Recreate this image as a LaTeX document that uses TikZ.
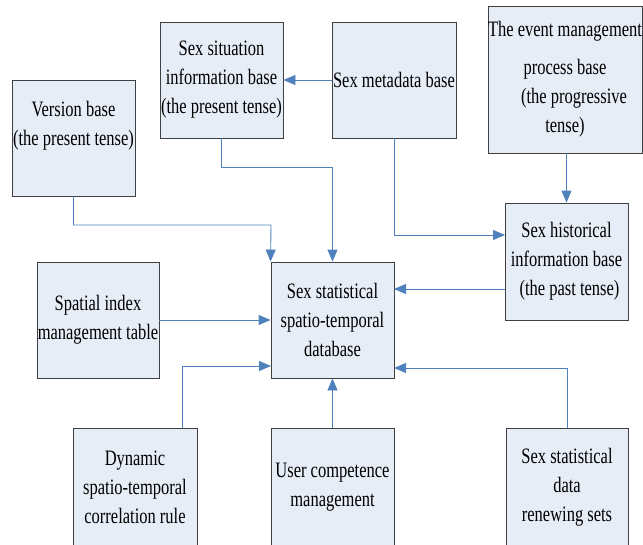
\documentclass[tikz,border=0pt]{standalone}
\usepackage{fontspec}
\setmainfont{Liberation Serif}[FakeStretch=0.75]
\usetikzlibrary{arrows.meta}
\definecolor{boxfill}{HTML}{E7EDF7}
\definecolor{boxline}{HTML}{404040}
\definecolor{conn}{HTML}{4F81BD}
\tikzset{
  box/.style={draw=boxline, fill=boxfill, line width=0.9pt, rectangle, inner sep=0pt,
    align=center, font=\fontsize{22}{29}\selectfont},
  conline/.style={draw=conn, line width=0.9pt},
  arr/.style={conline, -{Triangle[length=12pt,width=10pt]}}
}
\begin{document}
\begin{tikzpicture}[x=1pt,y=-1pt]
\useasboundingbox (0,0) rectangle (643,544);
% boxes
\node[box, minimum width=123pt, minimum height=116pt] (ver) at (73.5,138) {Version base\\(the present tense)\\ ~};
\node[box, minimum width=123pt, minimum height=116pt] (sit) at (221.5,80) {Sex situation\\information base\\(the present tense)};
\node[box, minimum width=124pt, minimum height=116pt] (meta) at (394,80) {Sex metadata base};
\node[box, minimum width=154pt, minimum height=147pt] (event) at (565,79.5) {The event management\\[9pt]process base\\\hspace*{18pt}(the progressive\\tense{)}};
\node[box, minimum width=123pt, minimum height=117pt] (hist) at (566.5,261.5) {Sex historical\\information base\\\hspace*{6pt}(the past tense)};
\node[box, minimum width=122pt, minimum height=116pt] (spat) at (98,320) {Spatial index\\management table};
\node[box, minimum width=123pt, minimum height=116pt] (db) at (332.5,320) {Sex statistical\\spatio-temporal\\database};
\node[box, minimum width=124pt, minimum height=119pt] (dyn) at (135,487.5) {Dynamic\\spatio-temporal\\correlation rule};
\node[box, minimum width=123pt, minimum height=119pt] (user) at (332.5,487.5) {User competence\\management};
\node[box, minimum width=122pt, minimum height=119pt] (renew) at (567,487.5) {Sex statistical\\data\\renewing sets};
% helper coordinates
\coordinate (j1) at (332.5,167);
\coordinate (j2) at (271,225);
\coordinate (hin) at (505,235);
\coordinate (hout) at (505,289);
\coordinate (dbe1) at (394,289);
\coordinate (dyo) at (182,428);
\coordinate (dbw2) at (271,366);
\coordinate (dbe2) at (394,368);
% connectors
\draw[arr] (meta.west) -- (sit.east);
\draw[arr] (sit.south) |- (j1) -- (db.north);
\draw[arr] (ver.south) |- (j2) -- (db.north west);
\draw[arr] (meta.south) |- (hin);
\draw[arr] (event.south -| hist.north) -- (hist.north);
\draw[arr] (hout) -- (dbe1);
\draw[arr] (spat.east) -- (db.west);
\draw[arr] (dyo) |- (dbw2);
\draw[arr] (user.north) -- (db.south);
\draw[arr] (renew.north) |- (dbe2);
\end{tikzpicture}
\end{document}
